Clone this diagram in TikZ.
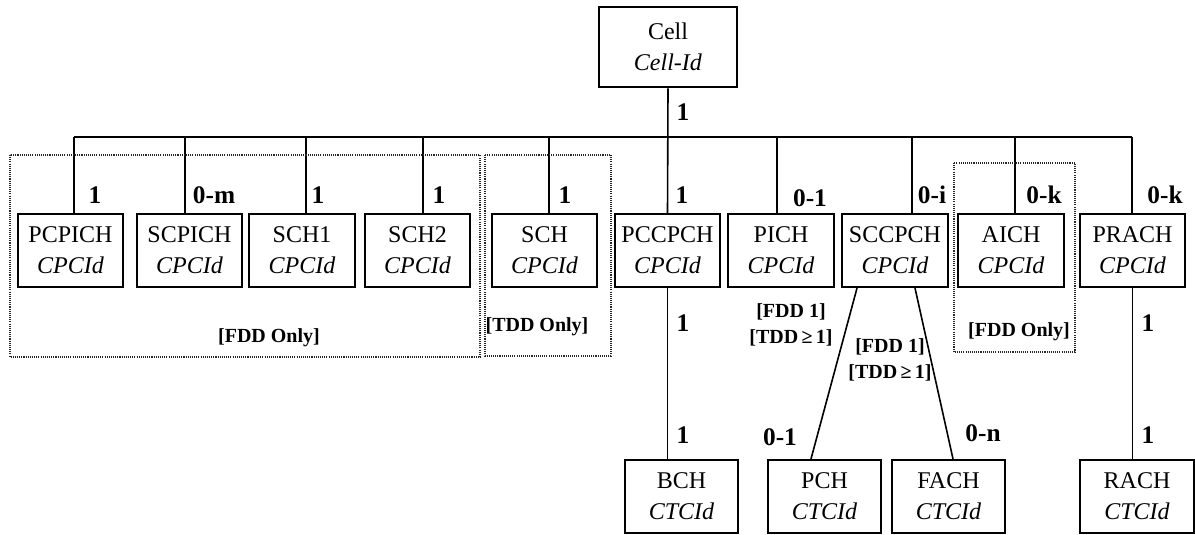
\documentclass[tikz,border=0pt]{standalone}
\usepackage{fontspec}
\setmainfont{Liberation Serif}
\usetikzlibrary{calc}
\tikzset{
  chbox/.style={draw, line width=1.4pt, minimum width=79pt, minimum height=55pt, inner sep=0pt, align=center, font=\fontsize{18}{23}\selectfont},
  trbox/.style={chbox, minimum width=85pt},
  mult/.style={inner sep=0pt, font=\fontsize{19}{22}\selectfont\bfseries},
  cond/.style={inner sep=0pt, align=center, font=\fontsize{15}{19}\selectfont\bfseries},
  region/.style={draw, line width=0.8pt, dash pattern=on 0.8pt off 0.8pt, black!85},
  link/.style={line width=1.2pt},
}

\begin{document}
\begin{tikzpicture}[x=0.75pt, y=-0.75pt]
		%%%%% START %%%%%
		\useasboundingbox (0,0) rectangle (1195,535);
		
		\node[chbox, minimum width=104pt, minimum height=60.5pt] (cell) at (668,47) {Cell\\\textit{Cell-Id}};
		
		% physical channels
		\node[chbox] (pcpich) at (70.5,250.5) {PCPICH\\\textit{CPCId}};
		\node[chbox] (scpich) at (189.5,250.5) {SCPICH\\\textit{CPCId}};
		\node[chbox] (sch1) at (302,250.5) {SCH1\\\textit{CPCId}};
		\node[chbox] (sch2) at (417.5,250.5) {SCH2\\\textit{CPCId}};
		\node[chbox] (sch) at (544.5,250.5) {SCH\\\textit{CPCId}};
		\node[chbox] (pccpch) at (667.5,250.5) {PCCPCH\\\textit{CPCId}};
		\node[chbox] (pich) at (781,250.5) {PICH\\\textit{CPCId}};
		\node[chbox] (sccpch) at (895,250.5) {SCCPCH\\\textit{CPCId}};
		\node[chbox] (aich) at (1011,250.5) {AICH\\\textit{CPCId}};
		\node[chbox] (prach) at (1132.5,250.5) {PRACH\\\textit{CPCId}};
		
		% transport channels
		\node[trbox] (bch) at (681.5,496.5) {BCH\\\textit{CTCId}};
		\node[trbox] (pch) at (824.5,496.5) {PCH\\\textit{CTCId}};
		\node[trbox] (fach) at (948.5,496.5) {FACH\\\textit{CTCId}};
		\node[trbox] (rach) at (1137,496.5) {RACH\\\textit{CTCId}};
		
		% bus
		\coordinate (d1) at (74,137);
		\coordinate (d2) at (185,137);
		\coordinate (d3) at (306,137);
		\coordinate (d4) at (423,137);
		\coordinate (d5) at (549,137);
		\coordinate (d7) at (777,137);
		\coordinate (d8) at (912,137);
		\coordinate (d9) at (1015,137);
		\coordinate (d10) at (1132,137);
		\draw[link] (d1) -- (d10);
		
		\draw[link] (cell.south) -- (pccpch.north);
		\draw[link] (d1) -- (d1 |- pcpich.north);
		\draw[link] (d2) -- (d2 |- scpich.north);
		\draw[link] (d3) -- (d3 |- sch1.north);
		\draw[link] (d4) -- (d4 |- sch2.north);
		\draw[link] (d5) -- (d5 |- sch.north);
		\draw[link] (d7) -- (d7 |- pich.north);
		\draw[link] (d8) -- (d8 |- sccpch.north);
		\draw[link] (d9) -- (d9 |- aich.north);
		\draw[link] (d10) -- (d10 |- prach.north);
		
		\draw[link] (pccpch.south) -- (pccpch.south |- bch.north);
		\draw[link] ($(sccpch.south)+(-38,0)$) -- ($(pch.north)+(-13.5,0)$);
		\draw[link] ($(sccpch.south)+(20,0)$) -- ($(fach.north)+(4.5,0)$);
		\draw[link] (prach.south) -- (prach.south |- rach.north);
		
		% multiplicities
		\node[mult] (m-cell) at (683,112) {1};
		\node[mult] (m-pcpich) at (95,195) {1};
		\node[mult] (m-scpich) at (214,195) {0-m};
		\node[mult] (m-sch1) at (318,195) {1};
		\node[mult] (m-sch2) at (439,195) {1};
		\node[mult] (m-sch) at (565,195) {1};
		\node[mult] (m-pccpch) at (682,195) {1};
		\node[mult] (m-pich) at (810,198) {0-1};
		\node[mult] (m-sccpch) at (932,195) {0-i};
		\node[mult] (m-aich) at (1044,195) {0-k};
		\node[mult] (m-prach) at (1165,195) {0-k};
		
		\node[mult] (m-bch-up) at (683,323) {1};
		\node[mult] (m-bch) at (683,435) {1};
		\node[mult] (m-pch) at (780,437) {0-1};
		\node[mult] (m-fach) at (983,433) {0-n};
		\node[mult] (m-rach-up) at (1148,323) {1};
		\node[mult] (m-rach) at (1148,435) {1};
		
		\node[cond] (c-pich) at (791,325) {[FDD 1]\\{}[TDD\,≥\,1]};
		\node[cond] (c-sccpch) at (890,360) {[FDD 1]\\{}[TDD\,≥\,1]};
		
		% mode regions
		\draw[region] (10,155) rectangle (480,357);
		\draw[region] (485,155) rectangle (611,356);
		\draw[region] (954,163) rectangle (1075,352);
		\node[cond] (fdd-a) at (269,338) {[FDD Only]};
		\node[cond] (tdd) at (537,327) {[TDD Only]};
		\node[cond] (fdd-b) at (1019,332) {[FDD Only]};
		
		%%%%% END %%%%%
\end{tikzpicture}
\end{document}
